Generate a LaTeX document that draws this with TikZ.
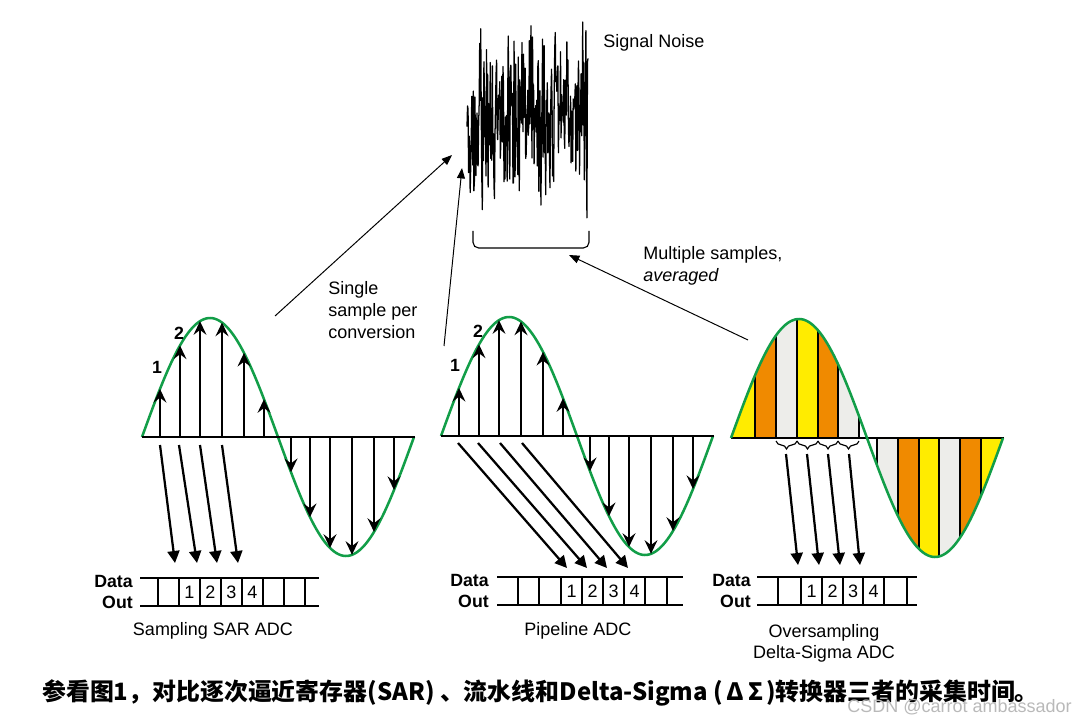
\documentclass[tikz,border=0pt]{standalone}
\usepackage{fontspec}
\setmainfont{Liberation Sans}
\newfontfamily\cjk{Noto Sans CJK SC}
\definecolor{wave}{HTML}{129E48}
\definecolor{dsorange}{HTML}{F08A00}
\definecolor{dsyellow}{HTML}{FFEC00}
\definecolor{dsgray}{HTML}{EDEDEA}
\usetikzlibrary{arrows.meta, positioning, decorations.pathreplacing}
\tikzset{
  axisline/.style={line width=1.9pt},
  sine/.style={wave, line width=1.8pt},
  sample/.style={-{Stealth[length=3.4mm,width=3.2mm,inset=1.2mm]}, line width=1.6pt},
  transfer/.style={-{Triangle[length=3mm,width=3mm]}, line width=1.6pt},
  pointer/.style={-{Triangle[length=2.6mm,width=2mm]}, line width=0.7pt},
  reg/.style={line width=1.5pt},
  lbl/.style={font=\fontsize{12.8}{15.8}\selectfont, inner sep=0pt},
  bold/.style={font=\bfseries\fontsize{12.6}{14.9}\selectfont, inner sep=0pt},
  noise/.style={line width=0.9pt, line join=round},
}
% degrees per pixel of one sine period (272 px)
\def\dpp{1.323529}

\begin{document}
\begin{tikzpicture}[x=0.25mm,y=-0.25mm]
\useasboundingbox (0,0) rectangle (1086,722);

% noise burst
\pgfmathsetseed{11}
\draw[noise] plot[domain=467:588, samples=230] (\x,{118+58*rand+50*rand});
\draw[line width=0.8pt, rounded corners=4] (473,231) -- (473,248) -- (589,248) -- (589,231);
\node[lbl, anchor=west] (noiseLbl) at (603,43) {Signal Noise};

% pointers to the noise
\coordinate (sarFrom) at (275,316); \coordinate (sarTo) at (452,155);
\coordinate (pipeFrom) at (444,346); \coordinate (pipeTo) at (462,168);
\coordinate (dsFrom) at (748,340); \coordinate (dsTo) at (569,255);
\draw[pointer] (sarFrom) -- (sarTo);
\draw[pointer] (pipeFrom) -- (pipeTo);
\draw[pointer] (dsFrom) -- (dsTo);
\node[lbl, anchor=north west, align=left] (singleLbl) at (328,281) {Single\\sample per\\conversion};
\node[lbl, anchor=north west, align=left] (multiLbl) at (643,246) {Multiple samples,\\\textit{averaged}};

% SAR
\begin{scope}[shift={(142,0)}]
\draw[sine] plot[domain=0:272, samples=120] (\x,{437-119*sin(\dpp*\x)});
\foreach \t in {18,38,58,80,102,122,149,168,188,210,232,252}
  \draw[sample] (\t,437) -- (\t,{437-119*sin(\dpp*\t)});
\draw[axisline] (0,437) -- (273,437);
\foreach \a/\b in {18/33,37/55,58/75,80/96}
  \draw[transfer] (\a,445) -- (\b,563);
\draw[reg] (-2,578) -- (177,578) (-2,606) -- (177,606);
\foreach \v in {16,37,58,79,100,121,142,163}
  \draw[reg] (\v,578) -- (\v,606);
\foreach \n in {1,2,3,4}
  \node[lbl] (sarBit\n) at ({26.5+21*\n},592) {\n};
\node[bold, anchor=east, align=right] (sarData) at (-9,592) {Data\\Out};
\node[bold] (sarOne) at (15,367) {1};
\node[bold] (sarTwo) at (37,333) {2};
\node[lbl] (sarTitle) at (71,631) {Sampling SAR ADC};
\end{scope}

% pipeline
\begin{scope}[shift={(441,0)}]
\draw[sine] plot[domain=0:272, samples=120] (\x,{436-119*sin(\dpp*\x)});
\foreach \t in {18,38,58,80,102,122,149,168,188,210,232,252}
  \draw[sample] (\t,436) -- (\t,{436-119*sin(\dpp*\t)});
\draw[axisline] (0,436) -- (273,436);
\foreach \a/\b in {17/126,37/146,59/166,81/187}
  \draw[transfer] (\a,443) -- (\b,568);
\draw[reg] (56,577) -- (242,577) (56,605) -- (242,605);
\foreach \v in {77,98,120,141,162,183,204,226}
  \draw[reg] (\v,577) -- (\v,605);
\foreach \n in {1,2,3,4}
  \node[lbl] (pipeBit\n) at ({109.5+21*\n},591) {\n};
\node[bold, anchor=east, align=right] (pipeData) at (48,591) {Data\\Out};
\node[bold] (pipeOne) at (14,365) {1};
\node[bold] (pipeTwo) at (37,331) {2};
\node[lbl] (pipeTitle) at (137,631) {Pipeline ADC};
\end{scope}

% delta-sigma
\begin{scope}[shift={(731,0)}]
\begin{scope}
\clip (0,438) -- plot[domain=0:272, samples=120] (\x,{438-119*sin(\dpp*\x)}) -- cycle;
\foreach \a/\b/\c in {0/24/dsyellow,24/45/dsorange,45/66/dsgray,66/87/dsyellow,87/107/dsorange,107/128/dsgray,
                      146/167/dsgray,167/188/dsorange,188/208/dsyellow,208/229/dsgray,229/250/dsorange,250/273/dsyellow}
  \fill[\c] (\a,300) rectangle (\b,580);
\foreach \v in {24,45,66,87,107,128,146,167,188,208,229,250}
  \draw[line width=1.1pt] (\v,300) -- (\v,580);
\end{scope}
\draw[axisline] (0,438) -- (273,438);
\draw[sine] plot[domain=0:272, samples=120] (\x,{438-119*sin(\dpp*\x)});
\foreach \a/\b in {45/66,66/87,87/107,107/128}
  \draw[line width=0.8pt, decorate, decoration={brace, mirror, amplitude=2mm}] (\a,441) -- (\b,441);
\foreach \a/\b in {55/67,76/88,97/109,118/129}
  \draw[transfer] (\a,454) -- (\b,565);
\draw[reg] (26,577) -- (186,577) (26,605) -- (186,605);
\foreach \v in {47,70,91,112,132,153,176}
  \draw[reg] (\v,577) -- (\v,605);
\foreach \n/\m in {1/80.5,2/101.5,3/122,4/142.5}
  \node[lbl] (dsBit\n) at (\m,591) {\n};
\node[bold, anchor=east, align=right] (dsData) at (20,591) {Data\\Out};
\node[lbl, align=center, font=\fontsize{12.8}{14.9}\selectfont] (dsTitle) at (93,643) {Oversampling\\Delta-Sigma ADC};
\end{scope}

% caption and mark
\node[anchor=west, inner sep=0pt] (caption) at (42,693)
  {\cjk\bfseries\fontsize{17}{20}\selectfont 参看图1，对比逐次逼近寄存器(SAR) 、流水线和Delta-Sigma (\hspace{0.15em}Δ\hspace{0.2em}Σ\hspace{0.1em})转换器三者的采集时间。};
\node[lbl, anchor=east, text=gray!55] (mark) at (1072,707) {CSDN @carrot ambassador};
\end{tikzpicture}
\end{document}
